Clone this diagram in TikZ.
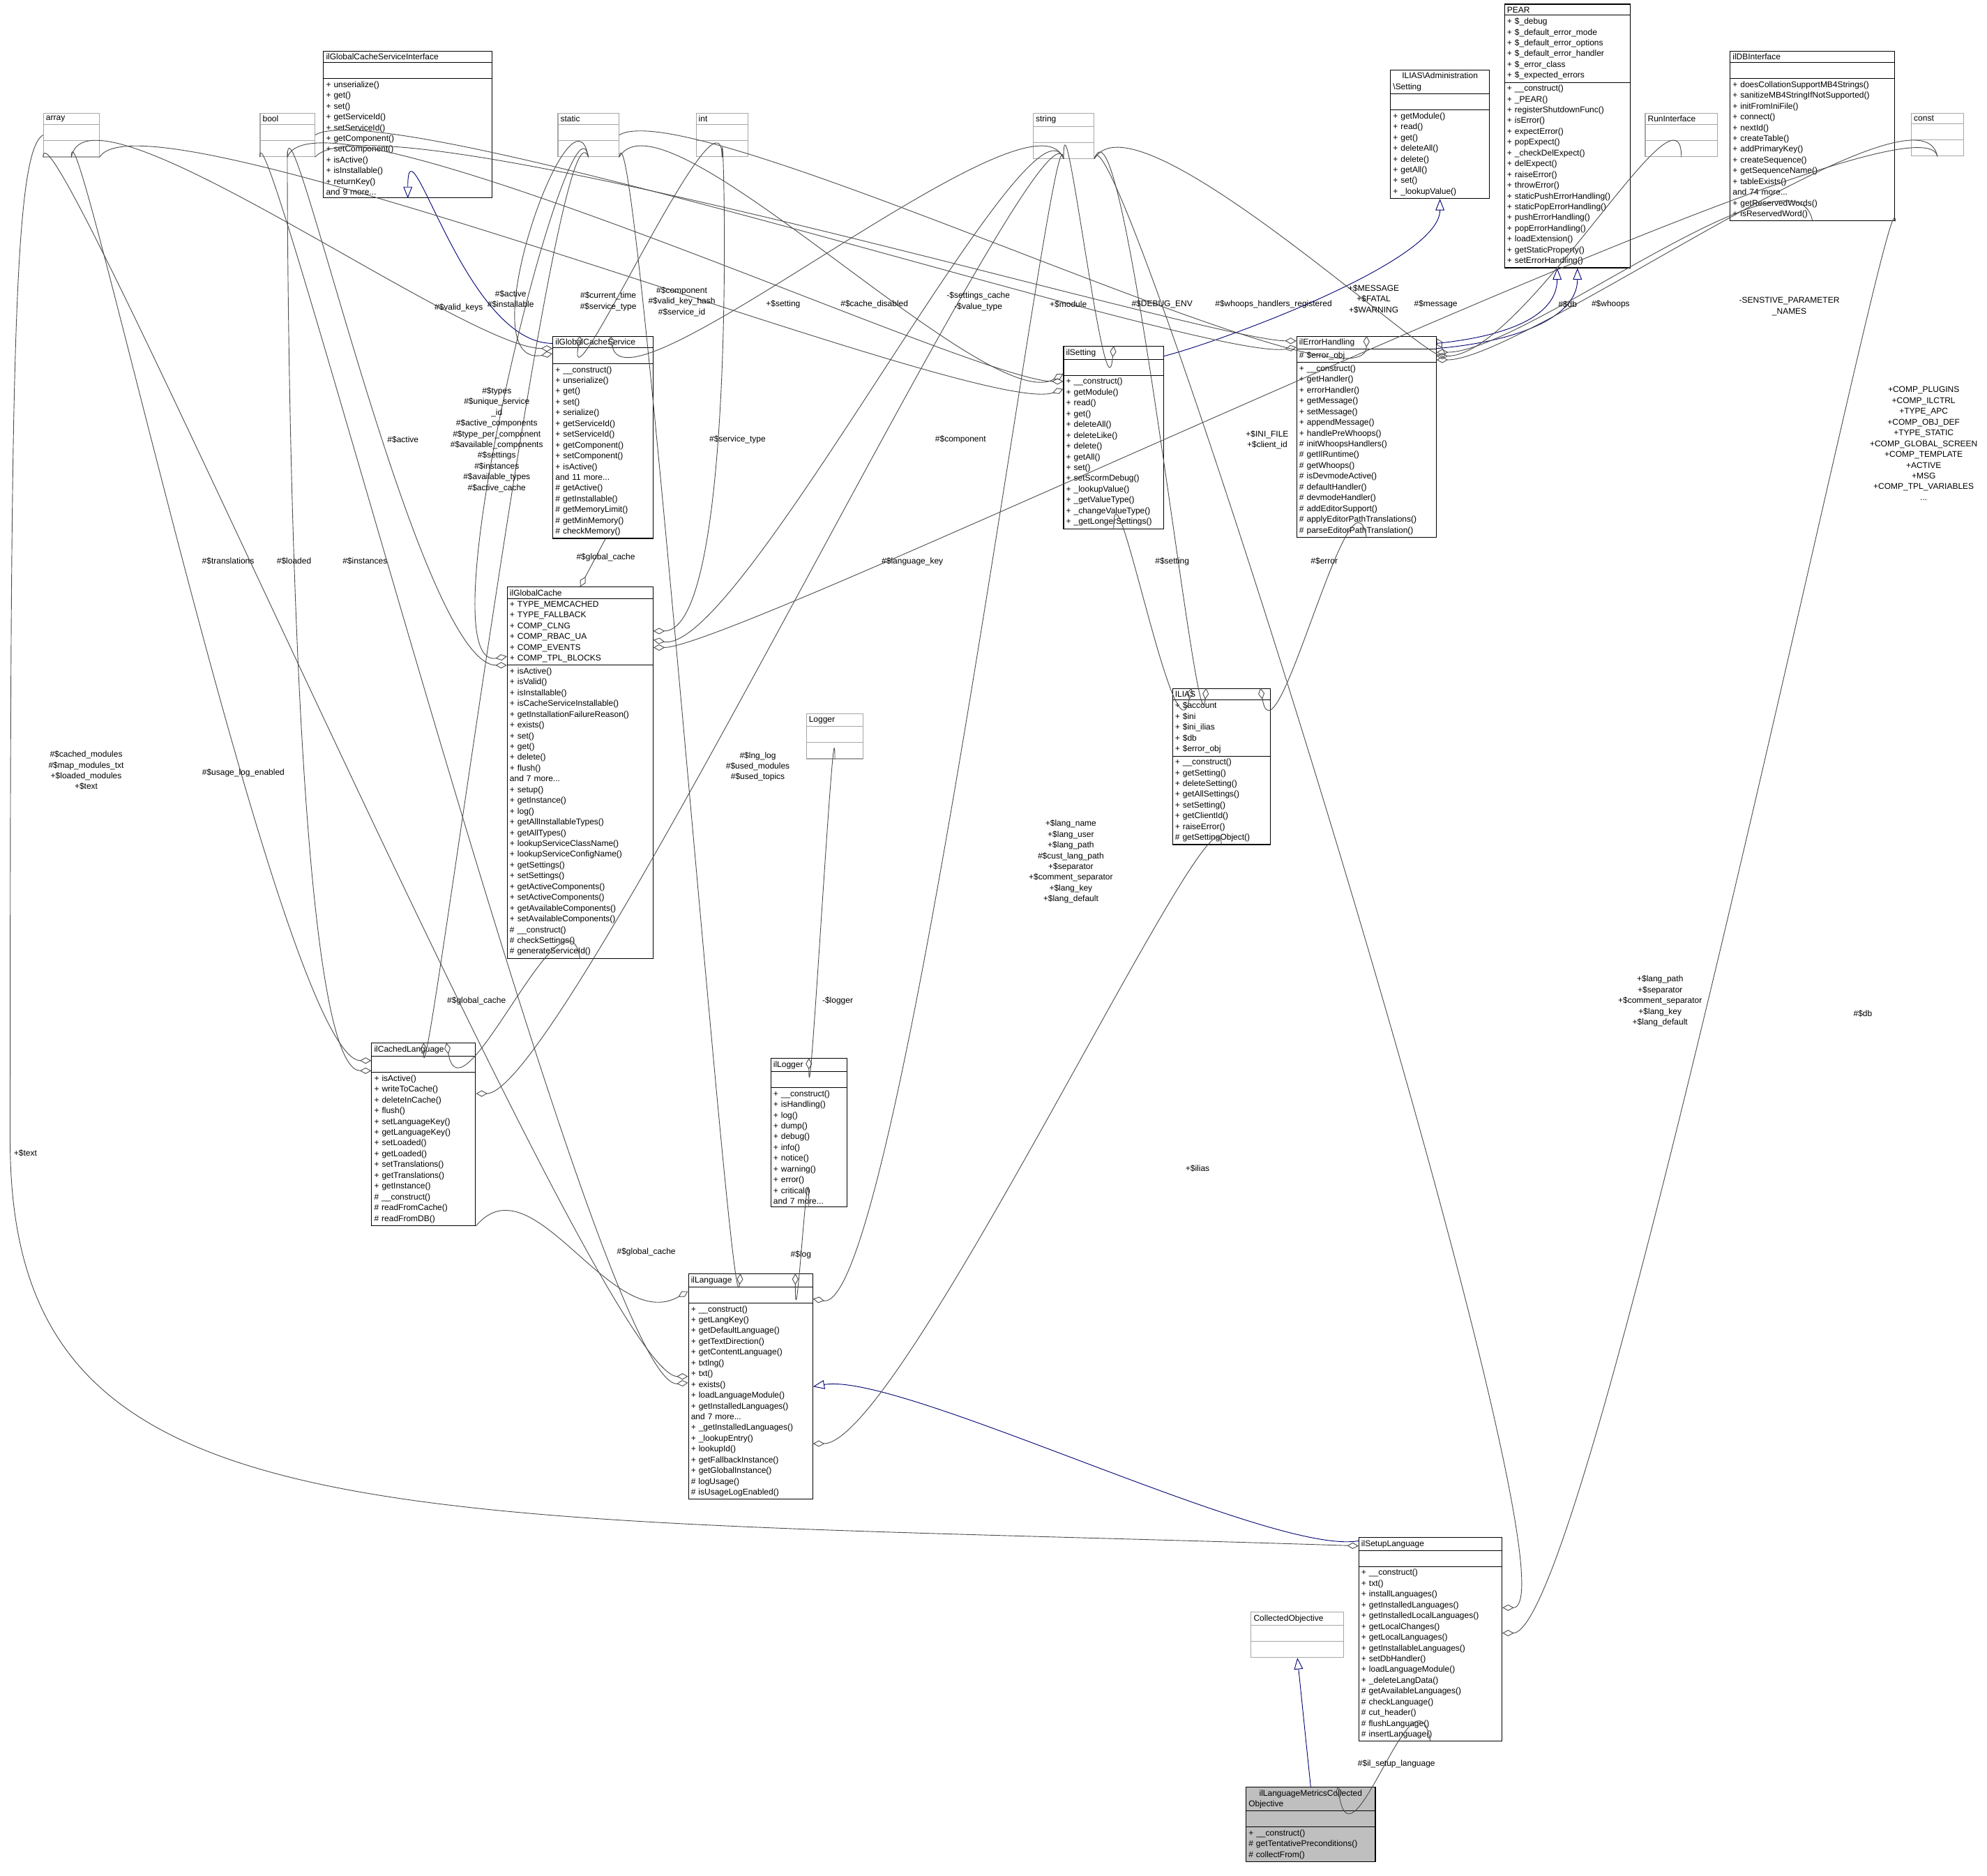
\documentclass[tikz,border=0pt]{standalone}
\usepackage{fontspec}
\setmainfont{Liberation Sans}
\usetikzlibrary{shapes.multipart,arrows.meta,calc}
\tikzset{
 cls/.style={rectangle split, rectangle split parts=3, draw, anchor=north west, inner xsep=2pt, inner ysep=1.8pt,
   font=\fontsize{6.6}{8.5}\selectfont, align=left, line width=0.6pt},
 ext/.style={cls, draw=black!35},
 lbl/.style={font=\fontsize{6.6}{8.5}\selectfont, align=center, inner sep=0pt},
 agg/.style={draw=black!70, line width=0.5pt, {Diamond[open,length=9pt,width=5pt]}-},
 inh/.style={draw=blue!45!black, line width=0.5pt, -{Triangle[open,length=9pt,width=7pt]}},
}
\newcommand\E{\strut}
\newcommand\T{\centering}
\newcommand\C[2]{.. controls +(#1:70) and +(#2:70) ..}
\begin{document}
\begin{tikzpicture}[x=1pt,y=-1pt]
\useasboundingbox (0,0) rectangle (1568,1480);
% external
\node[ext,text width=40pt] (arr) at (34,89) {\T array\nodepart{two}\E\nodepart{three}\E};
\node[ext,text width=39pt] (bool) at (205,89) {\T bool\nodepart{two}\E\nodepart{three}\E};
\node[ext,text width=44pt] (stat) at (440,89) {\T static\nodepart{two}\E\nodepart{three}\E};
\node[ext,text width=37pt] (int) at (549,89) {\T int\nodepart{two}\E\nodepart{three}\E};
\node[ext,text width=44pt] (str) at (815,89) {\T string\nodepart{two}\E\nodepart{three}\E};
\node[ext,text width=53pt] (runi) at (1298,89) {\T RunInterface\nodepart{two}\E\nodepart{three}\E};
\node[ext,text width=37pt] (cnst) at (1508,89) {\T const\nodepart{two}\E\nodepart{three}\E};
\node[ext,text width=41pt] (logr) at (636,563) {\T Logger\nodepart{two}\E\nodepart{three}\E};
\node[ext,text width=69pt] (cobj) at (987,1272) {\T CollectedObjective\nodepart{two}\E\nodepart{three}\E};
% classes
\node[cls,text width=129pt] (gcsi) at (255,40) {\T ilGlobalCacheServiceInterface\nodepart{two}\E\nodepart{three}+ unserialize()\\+ get()\\+ set()\\+ getServiceId()\\+ setServiceId()\\+ getComponent()\\+ setComponent()\\+ isActive()\\+ isInstallable()\\+ returnKey()\\and 9 more...};
\node[cls,text width=74pt] (adms) at (1097,55) {\T ILIAS\textbackslash Administration\\\textbackslash Setting\nodepart{two}\E\nodepart{three}+ getModule()\\+ read()\\+ get()\\+ deleteAll()\\+ delete()\\+ getAll()\\+ set()\\+ \_lookupValue()};
\node[cls,text width=95pt] (pear) at (1187,3) {\T PEAR\nodepart{two}+ \$\_debug\\+ \$\_default\_error\_mode\\+ \$\_default\_error\_options\\+ \$\_default\_error\_handler\\+ \$\_error\_class\\+ \$\_expected\_errors\nodepart{three}+ \_\_construct()\\+ \_PEAR()\\+ registerShutdownFunc()\\+ isError()\\+ expectError()\\+ popExpect()\\+ \_checkDelExpect()\\+ delExpect()\\+ raiseError()\\+ throwError()\\+ staticPushErrorHandling()\\+ staticPopErrorHandling()\\+ pushErrorHandling()\\+ popErrorHandling()\\+ loadExtension()\\+ getStaticProperty()\\+ setErrorHandling()};
\node[cls,text width=126pt] (dbi) at (1365,40) {\T ilDBInterface\nodepart{two}\E\nodepart{three}+ doesCollationSupportMB4Strings()\\+ sanitizeMB4StringIfNotSupported()\\+ initFromIniFile()\\+ connect()\\+ nextId()\\+ createTable()\\+ addPrimaryKey()\\+ createSequence()\\+ getSequenceName()\\+ tableExists()\\and 74 more...\\+ getReservedWords()\\+ isReservedWord()};
\node[cls,text width=75pt] (gcs) at (436,265) {\T ilGlobalCacheService\nodepart{two}\E\nodepart{three}+ \_\_construct()\\+ unserialize()\\+ get()\\+ set()\\+ serialize()\\+ getServiceId()\\+ setServiceId()\\+ getComponent()\\+ setComponent()\\+ isActive()\\and 11 more...\\\# getActive()\\\# getInstallable()\\\# getMemoryLimit()\\\# getMinMemory()\\\# checkMemory()};
\node[cls,text width=75pt] (set) at (839,273) {\T ilSetting\nodepart{two}\E\nodepart{three}+ \_\_construct()\\+ getModule()\\+ read()\\+ get()\\+ deleteAll()\\+ deleteLike()\\+ delete()\\+ getAll()\\+ set()\\+ setScormDebug()\\+ \_lookupValue()\\+ \_getValueType()\\+ \_changeValueType()\\+ \_getLongerSettings()};
\node[cls,text width=106pt] (err) at (1023,265) {\T ilErrorHandling\nodepart{two}\# \$error\_obj\nodepart{three}+ \_\_construct()\\+ getHandler()\\+ errorHandler()\\+ getMessage()\\+ setMessage()\\+ appendMessage()\\+ handlePreWhoops()\\\# initWhoopsHandlers()\\\# getIlRuntime()\\\# getWhoops()\\\# isDevmodeActive()\\\# defaultHandler()\\\# devmodeHandler()\\\# addEditorSupport()\\\# applyEditorPathTranslations()\\\# parseEditorPathTranslation()};
\node[cls,text width=111pt] (gc) at (400,463) {\T ilGlobalCache\nodepart{two}+ TYPE\_MEMCACHED\\+ TYPE\_FALLBACK\\+ COMP\_CLNG\\+ COMP\_RBAC\_UA\\+ COMP\_EVENTS\\+ COMP\_TPL\_BLOCKS\nodepart{three}+ isActive()\\+ isValid()\\+ isInstallable()\\+ isCacheServiceInstallable()\\+ getInstallationFailureReason()\\+ exists()\\+ set()\\+ get()\\+ delete()\\+ flush()\\and 7 more...\\+ setup()\\+ getInstance()\\+ log()\\+ getAllInstallableTypes()\\+ getAllTypes()\\+ lookupServiceClassName()\\+ lookupServiceConfigName()\\+ getSettings()\\+ setSettings()\\+ getActiveComponents()\\+ setActiveComponents()\\+ getAvailableComponents()\\+ setAvailableComponents()\\\# \_\_construct()\\\# checkSettings()\\\# generateServiceId()};
\node[cls,text width=73pt] (ilias) at (925,543) {\T ILIAS\nodepart{two}+ \$account\\+ \$ini\\+ \$ini\_ilias\\+ \$db\\+ \$error\_obj\nodepart{three}+ \_\_construct()\\+ getSetting()\\+ deleteSetting()\\+ getAllSettings()\\+ setSetting()\\+ getClientId()\\+ raiseError()\\\# getSettingObject()};
\node[cls,text width=78pt] (cl) at (293,823) {\T ilCachedLanguage\nodepart{two}\E\nodepart{three}+ isActive()\\+ writeToCache()\\+ deleteInCache()\\+ flush()\\+ setLanguageKey()\\+ getLanguageKey()\\+ setLoaded()\\+ getLoaded()\\+ setTranslations()\\+ getTranslations()\\+ getInstance()\\\# \_\_construct()\\\# readFromCache()\\\# readFromDB()};
\node[cls,text width=56pt] (log) at (608,835) {\T ilLogger\nodepart{two}\E\nodepart{three}+ \_\_construct()\\+ isHandling()\\+ log()\\+ dump()\\+ debug()\\+ info()\\+ notice()\\+ warning()\\+ error()\\+ critical()\\and 7 more...};
\node[cls,text width=94pt] (lng) at (543,1005) {\T ilLanguage\nodepart{two}\E\nodepart{three}+ \_\_construct()\\+ getLangKey()\\+ getDefaultLanguage()\\+ getTextDirection()\\+ getContentLanguage()\\+ txtlng()\\+ txt()\\+ exists()\\+ loadLanguageModule()\\+ getInstalledLanguages()\\and 7 more...\\+ \_getInstalledLanguages()\\+ \_lookupEntry()\\+ lookupId()\\+ getFallbackInstance()\\+ getGlobalInstance()\\\# logUsage()\\\# isUsageLogEnabled()};
\node[cls,text width=109pt] (sl) at (1072,1213) {\T ilSetupLanguage\nodepart{two}\E\nodepart{three}+ \_\_construct()\\+ txt()\\+ installLanguages()\\+ getInstalledLanguages()\\+ getInstalledLocalLanguages()\\+ getLocalChanges()\\+ getLocalLanguages()\\+ getInstallableLanguages()\\+ setDbHandler()\\+ loadLanguageModule()\\+ \_deleteLangData()\\\# getAvailableLanguages()\\\# checkLanguage()\\\# cut\_header()\\\# flushLanguage()\\\# insertLanguage()};
\node[cls,text width=98pt,fill=black!25] (lmc) at (983,1410) {\T ilLanguageMetricsCollected\\Objective\nodepart{two}\E\nodepart{three}+ \_\_construct()\\\# getTentativePreconditions()\\\# collectFrom()};
% inheritance
\draw[inh] ($(gcs.north west)+(0,6)$) \C{180}{-90} (gcsi.south);
\draw[inh] ($(set.north east)+(0,8)$) .. controls +(40,-10) and +(0,50) .. (adms.south);
\draw[inh] ($(err.north east)+(0,6)$) .. controls +(50,-5) and +(0,40) .. ($(pear.south)+(-8,0)$);
\draw[inh] ($(err.north east)+(0,10)$) .. controls +(60,-5) and +(0,40) .. ($(pear.south)+(8,0)$);
\draw[inh] ($(sl.north west)+(0,3)$) \C{170}{-10} (lng.east);
\draw[inh] (lmc.north) -- (cobj.south);
% aggregation
\draw[agg] ($(gcs.north west)+(0,10)$) \C{180}{-80} (arr.south);
\draw[agg] ($(gcs.north west)+(0,14)$) \C{170}{-100} (stat.south);
\draw[agg] ($(gcs.north)+(-18,0)$) \C{100}{-90} (int.south);
\draw[agg] ($(gcs.north)+(6,0)$) \C{80}{-110} (str.south);
\draw[agg] ($(set.north west)+(0,28)$) \C{180}{-70} (bool.south);
\draw[agg] ($(set.north west)+(0,34)$) \C{160}{-60} (arr.south east);
\draw[agg] ($(set.north west)+(0,22)$) \C{150}{-60} (stat.south east);
\draw[agg] (set.north) \C{95}{-90} (str.south);
\draw[agg] ($(err.north west)+(0,4)$) \C{180}{-50} (bool.south east);
\draw[agg] ($(err.north west)+(0,9)$) \C{170}{-30} (bool.east);
\draw[agg] (err.north) \C{90}{-30} (stat.east);
\draw[agg] ($(err.north east)+(0,2)$) \C{60}{-60} (str.south east);
\draw[agg] ($(err.north east)+(0,13)$) \C{0}{-100} (dbi.south);
\draw[agg] ($(err.north east)+(0,16)$) \C{0}{-90} (runi.south);
\draw[agg] ($(err.north east)+(0,19)$) \C{0}{-100} (cnst.south);
\draw[agg] ($(gc.north west)+(0,55)$) \C{170}{-100} (stat.south);
\draw[agg] ($(gc.north west)+(0,62)$) \C{180}{-90} (bool.south);
\draw[agg] ($(gc.north east)+(0,35)$) \C{0}{-90} (int.south);
\draw[agg] ($(gc.north east)+(0,42)$) \C{10}{-110} (str.south);
\draw[agg] ($(gc.north east)+(0,48)$) \C{0}{-100} (cnst.south);
\draw[agg] (gc.north) -- ($(gcs.south)+(2,0)$);
\draw[agg] ($(ilias.north)+(-12,0)$) \C{95}{-70} (str.south east);
\draw[agg] ($(ilias.north west)+(15,0)$) \C{100}{-90} (set.south);
\draw[agg] ($(ilias.north east)+(-8,0)$) \C{80}{-100} (err.south);
\draw[agg] ($(cl.north west)+(0,14)$) \C{180}{-90} (arr.south);
\draw[agg] ($(cl.north west)+(0,22)$) \C{180}{-90} (bool.south);
\draw[agg] (cl.north) \C{90}{-110} (stat.south);
\draw[agg] ($(cl.north east)+(0,40)$) \C{0}{-100} (str.south);
\draw[agg] ($(cl.north)+(18,0)$) \C{80}{-100} (gc.south);
\draw[agg] (log.north) \C{90}{-90} (logr.south);
\draw[agg] ($(lng.north west)+(0,14)$) \C{150}{-50} (cl.south east);
\draw[agg] ($(lng.north east)+(-14,0)$) \C{90}{-90} (log.south);
\draw[agg] ($(lng.north)+(-8,0)$) \C{95}{-80} (stat.south east);
\draw[agg] ($(lng.north east)+(0,20)$) \C{10}{-95} (str.south);
\draw[agg] ($(lng.east)+(0,45)$) \C{0}{-90} (ilias.south);
\draw[agg] ($(lng.west)+(0,-8)$) \C{180}{-90} (arr.south west);
\draw[agg] ($(lng.west)+(0,-3)$) \C{175}{-90} (bool.south west);
\draw[agg] ($(sl.north west)+(0,7)$) .. controls (300,1195) and (8,1220) .. (8,900) .. controls (8,300) and (10,120) .. (arr.west);
\draw[agg] ($(sl.east)+(0,-25)$) \C{0}{-80} (str.south east);
\draw[agg] ($(sl.east)+(0,-5)$) \C{0}{-90} (dbi.south east);
\draw[agg] ($(lmc.north east)+(-30,0)$) \C{80}{-100} (sl.south);
% labels
\node[lbl] (l1) at (362,243) {\#\$valid\_keys};
\node[lbl] (l2) at (403,236) {\#\$active\\\#\$installable};
\node[lbl] (l3) at (480,238) {\#\$current\_time\\\#\$service\_type};
\node[lbl] (l4) at (538,238) {\#\$component\\\#\$valid\_key\_hash\\\#\$service\_id};
\node[lbl] (l5) at (618,240) {+\$setting};
\node[lbl] (l6) at (690,240) {\#\$cache\_disabled};
\node[lbl] (l7) at (772,238) {-\$settings\_cache\\-\$value\_type};
\node[lbl] (l8) at (843,240) {+\$module};
\node[lbl] (l9) at (917,240) {\#\$DEBUG\_ENV};
\node[lbl] (l10) at (1005,240) {\#\$whoops\_handlers\_registered};
\node[lbl] (l11) at (1084,236) {+\$MESSAGE\\+\$FATAL\\+\$WARNING};
\node[lbl] (l12) at (1133,240) {\#\$message};
\node[lbl] (l13) at (1237,240) {\#\$db};
\node[lbl] (l14) at (1271,240) {\#\$whoops};
\node[lbl] (l15) at (1412,242) {-SENSTIVE\_PARAMETER\\\_NAMES};
\node[lbl] (l16) at (1518,350) {+COMP\_PLUGINS\\+COMP\_ILCTRL\\+TYPE\_APC\\+COMP\_OBJ\_DEF\\+TYPE\_STATIC\\+COMP\_GLOBAL\_SCREEN\\+COMP\_TEMPLATE\\+ACTIVE\\+MSG\\+COMP\_TPL\_VARIABLES\\...};
\node[lbl] (l17) at (392,347) {\#\$types\\\#\$unique\_service\\\_id\\\#\$active\_components\\\#\$type\_per\_component\\\#\$available\_components\\\#\$settings\\\#\$instances\\\#\$available\_types\\\#\$active\_cache};
\node[lbl] (l18) at (318,347) {\#\$active};
\node[lbl] (l19) at (582,347) {\#\$service\_type};
\node[lbl] (l20) at (758,347) {\#\$component};
\node[lbl] (l21) at (478,440) {\#\$global\_cache};
\node[lbl] (l22) at (1000,347) {+\$INI\_FILE\\+\$client\_id};
\node[lbl] (l23) at (925,443) {\#\$setting};
\node[lbl] (l24) at (1045,443) {\#\$error};
\node[lbl] (l25) at (180,443) {\#\$translations};
\node[lbl] (l26) at (232,443) {\#\$loaded};
\node[lbl] (l27) at (288,443) {\#\$instances};
\node[lbl] (l28) at (720,443) {\#\$language\_key};
\node[lbl] (l29) at (598,605) {\#\$lng\_log\\\#\$used\_modules\\\#\$used\_topics};
\node[lbl] (l30) at (845,680) {+\$lang\_name\\+\$lang\_user\\+\$lang\_path\\\#\$cust\_lang\_path\\+\$separator\\+\$comment\_separator\\+\$lang\_key\\+\$lang\_default};
\node[lbl] (l31) at (68,608) {\#\$cached\_modules\\\#\$map\_modules\_txt\\+\$loaded\_modules\\+\$text};
\node[lbl] (l32) at (192,610) {\#\$usage\_log\_enabled};
\node[lbl] (l33) at (661,790) {-\$logger};
\node[lbl] (l34) at (376,790) {\#\$global\_cache};
\node[lbl] (l35) at (510,988) {\#\$global\_cache};
\node[lbl] (l36) at (632,990) {\#\$log};
\node[lbl] (l37) at (945,922) {+\$ilias};
\node[lbl] (l38) at (20,910) {+\$text};
\node[lbl] (l39) at (1310,790) {+\$lang\_path\\+\$separator\\+\$comment\_separator\\+\$lang\_key\\+\$lang\_default};
\node[lbl] (l40) at (1470,800) {\#\$db};
\node[lbl] (l41) at (1102,1392) {\#\$il\_setup\_language};
\end{tikzpicture}
\end{document}
